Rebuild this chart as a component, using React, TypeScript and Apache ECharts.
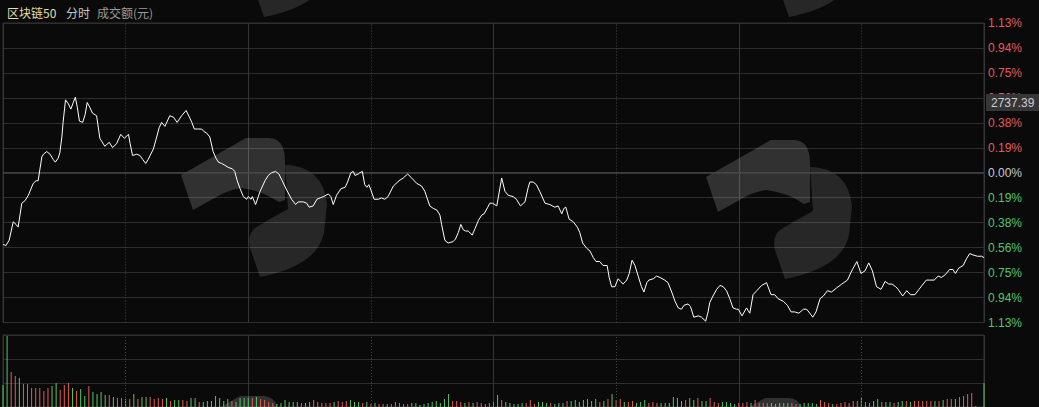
import { useEffect, useRef } from "react";
import * as echarts from "echarts";

// header texts
const titleName = "区块链50";
const titleMode = "分时";
const titleVolume = "成交额(元)";

// price label shown on the right axis
const markPrice = "2737.39";
const markPricePct = 0.525;

// right axis, percent change vs previous close, from bottom to top
const pctRange = 1.13;
const yTickLabels = ["1.13%", "0.94%", "0.75%", "0.56%", "0.38%", "0.19%", "0.00%", "0.19%", "0.38%", "0.56%", "0.75%", "0.94%", "1.13%"];

// intraday line: [minute, percent change]
const linePoints: [number, number][] = [
  [0, -0.54], [0.7, -0.55], [1.5, -0.51], [2.5, -0.37], [3.2, -0.39], [3.7, -0.41], [4.6, -0.23], [5.4, -0.21], [6.2, -0.17], [7.4, -0.08],
  [8.1, -0.06], [8.6, -0.06], [9.5, 0.12], [9.9, 0.14], [10.7, 0.16], [11.5, 0.14], [12.3, 0.1], [12.8, 0.08], [13.5, 0.11], [13.9, 0.15],
  [14.4, 0.27], [14.7, 0.38], [15.3, 0.55], [16.0, 0.52], [16.6, 0.48], [17.2, 0.53], [17.7, 0.57], [18.2, 0.49], [18.7, 0.39], [19.5, 0.38],
  [20.1, 0.44], [20.6, 0.53], [21.3, 0.49], [21.9, 0.45], [22.9, 0.43], [23.7, 0.26], [24.1, 0.24], [24.9, 0.2], [26.0, 0.23], [26.8, 0.19],
  [27.8, 0.22], [28.8, 0.29], [29.7, 0.26], [30.7, 0.29], [31.1, 0.22], [31.7, 0.13], [32.7, 0.14], [33.5, 0.13], [34.2, 0.1], [34.9, 0.07],
  [35.5, 0.1], [36.8, 0.18], [37.6, 0.27], [38.2, 0.34], [38.8, 0.38], [39.6, 0.35], [40.8, 0.43], [41.7, 0.42], [42.6, 0.38], [43.7, 0.43],
  [44.8, 0.47], [45.6, 0.42], [46.2, 0.38], [46.8, 0.33], [47.5, 0.33], [48.6, 0.33], [49.2, 0.31], [49.8, 0.3], [50.6, 0.27], [51.4, 0.16],
  [52.1, 0.11], [52.7, 0.08], [53.5, 0.07], [54.1, 0.06], [55.1, 0.04], [56.1, 0.03], [56.7, 0.01], [57.3, -0.06], [58.0, -0.12], [58.8, -0.18],
  [59.6, -0.2], [60.0, -0.18], [60.7, -0.2], [61.0, -0.18], [61.8, -0.24], [62.9, -0.14], [64.1, -0.06], [64.9, -0.02], [65.7, 0.0], [66.7, 0.01],
  [67.5, -0.01], [68.3, -0.06], [69.4, -0.13], [70.6, -0.2], [71.6, -0.24], [72.2, -0.22], [73.5, -0.22], [74.3, -0.23], [74.9, -0.26], [75.9, -0.25],
  [76.8, -0.2], [77.6, -0.19], [78.4, -0.18], [79.6, -0.16], [80.2, -0.18], [80.8, -0.24], [81.6, -0.17], [82.7, -0.12], [83.7, -0.11], [84.3, -0.07],
  [85.1, 0.0], [85.7, 0.01], [86.1, -0.02], [86.9, -0.01], [87.3, 0.0], [87.9, 0.01], [88.5, -0.09], [89.0, -0.11], [89.5, -0.09], [90.0, -0.13],
  [90.8, -0.2], [91.8, -0.2], [92.6, -0.19], [93.4, -0.2], [94.2, -0.18], [95.5, -0.1], [96.9, -0.06], [97.9, -0.04], [99.0, -0.01], [100.0, -0.04],
  [101.2, -0.08], [102.4, -0.1], [103.2, -0.14], [104.4, -0.25], [105.3, -0.27], [106.1, -0.28], [106.9, -0.32], [107.3, -0.39], [108.1, -0.51], [108.9, -0.53],
  [110.1, -0.52], [110.7, -0.5], [111.4, -0.45], [112.0, -0.39], [112.6, -0.43], [113.2, -0.44], [113.8, -0.44], [114.8, -0.47], [115.5, -0.42], [116.3, -0.36],
  [117.1, -0.32], [117.7, -0.31], [118.6, -0.26], [119.1, -0.23], [119.8, -0.23], [120.8, -0.25], [122.0, -0.04], [122.8, -0.14], [123.6, -0.17], [124.8, -0.18],
  [125.6, -0.2], [126.6, -0.25], [127.7, -0.22], [128.5, -0.11], [128.9, -0.07], [129.7, -0.07], [130.5, -0.09], [131.3, -0.14], [132.6, -0.23], [133.8, -0.24],
  [135.0, -0.26], [135.8, -0.25], [136.7, -0.31], [137.2, -0.27], [137.7, -0.26], [138.5, -0.35], [139.5, -0.37], [140.5, -0.41], [141.1, -0.45], [141.8, -0.53],
  [142.8, -0.57], [143.6, -0.59], [144.4, -0.64], [145.1, -0.67], [146.0, -0.67], [146.8, -0.7], [147.8, -0.7], [148.3, -0.79], [148.9, -0.86], [149.7, -0.86],
  [150.5, -0.8], [151.1, -0.82], [151.7, -0.84], [152.6, -0.81], [153.2, -0.76], [153.9, -0.66], [154.6, -0.7], [155.4, -0.78], [156.2, -0.86], [156.8, -0.9],
  [157.5, -0.83], [158.0, -0.81], [159.1, -0.8], [159.9, -0.78], [160.7, -0.79], [161.9, -0.81], [162.7, -0.83], [163.6, -0.9], [164.4, -0.97], [165.2, -1.02],
  [166.0, -1.03], [166.6, -1.0], [167.6, -0.99], [168.2, -1.01], [169.0, -1.09], [170.1, -1.08], [170.9, -1.09], [171.9, -1.12], [172.5, -1.05], [172.9, -0.98],
  [173.7, -0.93], [174.6, -0.88], [175.4, -0.85], [176.2, -0.86], [177.0, -0.89], [177.8, -0.95], [178.6, -1.02], [179.5, -1.03], [179.9, -1.03], [180.8, -1.08],
  [181.9, -1.02], [182.7, -1.06], [183.5, -0.92], [184.4, -0.89], [185.6, -0.85], [186.8, -0.83], [187.9, -0.92], [188.8, -0.92], [189.6, -0.95], [190.9, -0.97],
  [191.9, -1.0], [192.8, -1.05], [193.7, -1.05], [194.7, -1.06], [195.8, -1.03], [196.6, -1.03], [197.4, -1.06], [198.1, -1.09], [198.9, -1.05], [199.9, -0.95],
  [200.7, -0.93], [201.7, -0.89], [202.7, -0.9], [203.9, -0.87], [205.2, -0.84], [206.6, -0.81], [207.8, -0.73], [208.9, -0.67], [209.9, -0.76], [210.9, -0.74],
  [211.8, -0.68], [212.7, -0.74], [213.7, -0.86], [214.3, -0.87], [214.8, -0.88], [215.8, -0.82], [216.7, -0.84], [217.5, -0.84], [218.4, -0.86], [219.0, -0.88],
  [220.1, -0.93], [221.1, -0.89], [222.0, -0.92], [223.1, -0.92], [224.1, -0.88], [225.1, -0.84], [225.9, -0.81], [226.7, -0.81], [227.8, -0.81], [228.8, -0.78],
  [229.6, -0.79], [230.5, -0.77], [231.6, -0.73], [232.4, -0.73], [233.0, -0.76], [233.8, -0.72], [234.9, -0.7], [235.7, -0.65], [236.5, -0.61], [237.3, -0.62],
  [238.4, -0.63], [239.4, -0.63], [240, -0.64],
];

// per-minute turnover (relative units), and r = up minute, g = down minute
const volumes = [
  22, 71, 35, 31, 29, 23, 23, 19, 19, 19, 16, 19, 21, 24, 17, 22, 24, 19, 16, 18,
  11, 21, 15, 13, 15, 12, 12, 10, 9, 9, 8, 8, 13, 8, 10, 10, 10, 8, 9, 8,
  9, 6, 7, 7, 7, 6, 9, 9, 5, 5, 6, 6, 11, 9, 6, 8, 6, 5, 9, 9,
  9, 9, 10, 8, 7, 5, 4, 3, 4, 7, 5, 5, 5, 4, 4, 5, 7, 5, 4, 4,
  4, 5, 6, 5, 6, 7,
  5, 5, 4, 5, 3, 4, 3, 3, 3, 3, 5, 4, 3, 3, 4, 4, 2, 3, 4, 5,
  6, 4, 8, 13, 6, 6, 5, 4, 5, 4, 5, 4, 3, 4, 5, 12, 7, 5, 4, 3,
  3, 4, 4, 7, 3, 5, 5, 4, 4, 3, 4, 4, 6, 6, 7, 5, 7, 8,
  6, 8, 5, 6, 8, 13, 7, 8, 5, 5, 6, 4, 5, 7, 4, 5, 4, 4, 4, 4,
  10, 9, 6, 7, 9, 7, 9, 6, 6, 9, 5, 4, 5, 5, 4, 3, 4, 4, 5, 4,
  7, 4, 4, 4, 4, 3, 4, 4, 4, 4, 3, 3, 4, 4, 4, 3, 7, 5, 4,
  3, 3, 4, 5, 4, 6, 6, 9, 5, 4, 6, 8, 5, 5, 5, 4, 5, 6, 6, 5,
  6, 6, 6, 6, 6, 6, 6, 7, 8, 8, 8, 10, 11, 13, 14, 1, 0, 24,
];
const volumeSide = (
  "ggrrgrrrrr" + "rrggrrrgrg" + "grggggrgrr" + "grgrggrrrr" + "grggrrggrg" + "ggggggrggg" + "grgrrrrggg" + "gggrggrrrr" + "rgrrrg" +
  "ggrgrgr" + "rgrrrrrggg" + "gggggggrrr" + "grgrrrrrgr" + "gggggrrrgg" + "grgggrggggg" +
  "ggrgrgrrg" + "rrgggrrrgg" + "ggggrggrgg" + "rrrggggrrr" + "grrrrggggg" + "rrgggggrrr" +
  "grrrrrrgrr" + "ggrggrggrg" + "rrrrrgrgrr" + "grrrrg" + "gg"
).split("");

const upColor = "#e25c5c";
const downColor = "#55c46a";
const gridColor = "#2e2e2e";

// watermark logo outlines
echarts.graphic.registerShape(
  "wmUpper",
  (echarts.graphic as any).extendPath("M0 37 L65 0 L88 0 Q104 0 104 24 L104 62 L98 64 Q80 52 60 50 Q48 52 39 57 L12 72 Z", {})
);
echarts.graphic.registerShape(
  "wmLobe",
  (echarts.graphic as any).extendPath("M104 27 Q142 28 146 66 L143 95 Q136 128 79 139 L69 110 Q66 96 74 90 Q90 80 107 71 Z", {})
);

const watermarkSpots = [[181, 138], [706, 140], [185, -122], [710, -122], [175, 396], [700, 398]];

export default function App() {
  const chartRef = useRef<HTMLDivElement>(null);

  useEffect(() => {
    if (!chartRef.current) return;
    const chart = echarts.init(chartRef.current, undefined, { renderer: "svg" });
    const step = pctRange / 6;

    const watermark: any[] = [];
    watermarkSpots.forEach(([x, y]) => {
      watermark.push({ type: "wmUpper", x, y, silent: true, z: 1, style: { fill: "rgba(255,255,255,0.16)" } });
      watermark.push({ type: "wmLobe", x, y, silent: true, z: 1, style: { fill: "rgba(255,255,255,0.12)" } });
    });

    const option: any = {
      animation: false,
      backgroundColor: "#0a0a0a",
      textStyle: { fontFamily: "'Liberation Sans', Arial, sans-serif" },
      grid: [
        { left: 3, top: 23, width: 981, height: 299.5, show: true, borderColor: "#333", borderWidth: 1 },
        { left: 3, top: 335, width: 981, height: 72, show: true, borderColor: "#333", borderWidth: 1 },
      ],
      xAxis: [0, 1].map((g) => ({
        type: "value",
        gridIndex: g,
        min: 0,
        max: 240,
        interval: 60,
        axisLine: { show: false },
        axisTick: { show: false },
        axisLabel: { show: false },
        splitLine: { show: true, lineStyle: { color: "#363636", width: 1 } },
      })),
      yAxis: [
        {
          type: "value",
          gridIndex: 0,
          position: "right",
          min: -pctRange,
          max: pctRange,
          interval: step,
          axisLine: { show: false },
          axisTick: { show: false },
          splitLine: { show: true, lineStyle: { color: gridColor } },
          axisLabel: {
            margin: 4,
            fontSize: 12,
            formatter: (v: number) => yTickLabels[Math.round((Number(v) + pctRange) / step)] ?? "",
            color: (v: any) => {
              const n = Number(v);
              return n > 1e-6 ? upColor : n < -1e-6 ? downColor : "#c8c8c8";
            },
          },
        },
        {
          type: "value",
          gridIndex: 1,
          min: 0,
          max: 72,
          interval: 24,
          axisLine: { show: false },
          axisTick: { show: false },
          axisLabel: { show: false },
          splitLine: { show: true, lineStyle: { color: gridColor } },
        },
      ],
      series: [
        {
          type: "line",
          xAxisIndex: 0,
          yAxisIndex: 0,
          data: linePoints,
          symbol: "none",
          showSymbol: false,
          z: 5,
          lineStyle: { color: "#ffffff", width: 1 },
          markLine: {
            silent: true,
            symbol: ["none", "none"],
            animation: false,
            data: [
              { xAxis: 30, lineStyle: { type: [1, 2], color: "#444", width: 1 }, label: { show: false } },
              { xAxis: 90, lineStyle: { type: [1, 2], color: "#444", width: 1 }, label: { show: false } },
              { xAxis: 150, lineStyle: { type: [1, 2], color: "#444", width: 1 }, label: { show: false } },
              { xAxis: 210, lineStyle: { type: [1, 2], color: "#444", width: 1 }, label: { show: false } },
              { yAxis: 0, lineStyle: { type: "solid", color: "#454545", width: 1.5 }, label: { show: false } },
              {
                yAxis: markPricePct,
                lineStyle: { color: "rgba(0,0,0,0)", width: 0.1 },
                label: {
                  show: true,
                  position: "end",
                  distance: 2,
                  formatter: markPrice,
                  color: "#cfcfcf",
                  fontSize: 12,
                  backgroundColor: "#363636",
                  padding: [3, 5, 2, 5],
                },
              },
            ],
          },
        },
        {
          type: "bar",
          xAxisIndex: 1,
          yAxisIndex: 1,
          data: volumes.map((v, i) => [i, v]),
          barWidth: 1,
          itemStyle: { color: (p: any) => (volumeSide[p.dataIndex] === "r" ? upColor : downColor) },
          markLine: {
            silent: true,
            symbol: ["none", "none"],
            animation: false,
            label: { show: false },
            lineStyle: { type: [1, 2], color: "#444", width: 1 },
            data: [{ xAxis: 30 }, { xAxis: 90 }, { xAxis: 150 }, { xAxis: 210 }],
          },
        },
      ],
      graphic: [
        ...watermark,
        { type: "text", x: 7, y: 12.5, z: 10, style: { text: titleName, fill: "#e3dfa6", fontSize: 12, fontFamily: "'Noto Sans CJK SC'", verticalAlign: "middle" } },
        { type: "text", x: 66, y: 12.5, z: 10, style: { text: titleMode, fill: "#c8c8c8", fontSize: 12, fontFamily: "'Noto Sans CJK SC'", verticalAlign: "middle" } },
        { type: "text", x: 97, y: 12.5, z: 10, style: { text: titleVolume, fill: "#9a9a9a", fontSize: 12, fontFamily: "'Noto Sans CJK SC'", verticalAlign: "middle" } },
      ],
    };

    chart.setOption(option);
    return () => {
      chart.dispose();
    };
  }, []);

  return <div ref={chartRef} style={{ position: "fixed", left: 0, top: 0, width: 1039, height: 407 }} />;
}
